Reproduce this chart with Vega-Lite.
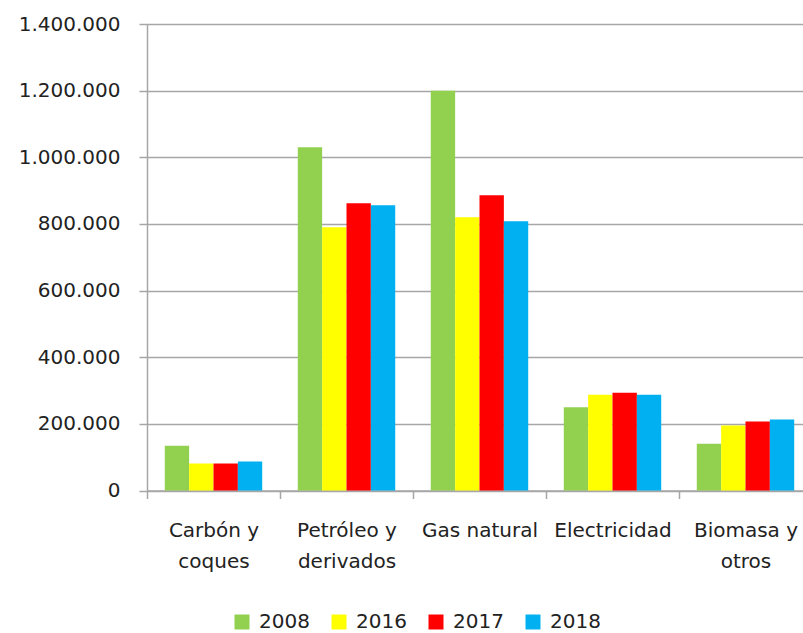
{
  "$schema": "https://vega.github.io/schema/vega-lite/v6.json",
  "width": 656,
  "height": 466.5,
  "autosize": {"type": "none"},
  "padding": {"left": 147, "top": 24, "right": 0, "bottom": 142.5},
  "config": {
    "locale": {"number": {"decimal": ",", "thousands": ".", "grouping": [3], "currency": ["", " €"]}},
    "view": {"stroke": null},
    "font": "DejaVu Sans"
  },
  "data": {
    "values": [
      {"fuente": "Carbón y coques", "anio": "2008", "valor": 134000},
      {"fuente": "Carbón y coques", "anio": "2016", "valor": 81000},
      {"fuente": "Carbón y coques", "anio": "2017", "valor": 81000},
      {"fuente": "Carbón y coques", "anio": "2018", "valor": 87000},
      {"fuente": "Petróleo y derivados", "anio": "2008", "valor": 1030000},
      {"fuente": "Petróleo y derivados", "anio": "2016", "valor": 790000},
      {"fuente": "Petróleo y derivados", "anio": "2017", "valor": 862000},
      {"fuente": "Petróleo y derivados", "anio": "2018", "valor": 856000},
      {"fuente": "Gas natural", "anio": "2008", "valor": 1200000},
      {"fuente": "Gas natural", "anio": "2016", "valor": 820000},
      {"fuente": "Gas natural", "anio": "2017", "valor": 886000},
      {"fuente": "Gas natural", "anio": "2018", "valor": 808000},
      {"fuente": "Electricidad", "anio": "2008", "valor": 250000},
      {"fuente": "Electricidad", "anio": "2016", "valor": 287000},
      {"fuente": "Electricidad", "anio": "2017", "valor": 293000},
      {"fuente": "Electricidad", "anio": "2018", "valor": 287000},
      {"fuente": "Biomasa y otros", "anio": "2008", "valor": 140000},
      {"fuente": "Biomasa y otros", "anio": "2016", "valor": 195000},
      {"fuente": "Biomasa y otros", "anio": "2017", "valor": 207000},
      {"fuente": "Biomasa y otros", "anio": "2018", "valor": 213000}
    ]
  },
  "mark": {"type": "bar"},
  "encoding": {
    "x": {
      "field": "fuente",
      "type": "nominal",
      "sort": ["Carbón y coques", "Petróleo y derivados", "Gas natural", "Electricidad", "Biomasa y otros"],
      "scale": {"range": [0, 665], "paddingInner": 0, "paddingOuter": 0},
      "axis": {
        "title": null,
        "tickBand": "extent",
        "labelAngle": 0,
        "domainColor": "#a6a6a6",
        "domainWidth": 1.5,
        "tickColor": "#a6a6a6",
        "tickWidth": 1.5,
        "tickSize": 8,
        "labelFontSize": 20,
        "labelColor": "#222222",
        "labelBaseline": "alphabetic",
        "labelPadding": 38,
        "labelLineHeight": 31,
        "labelLimit": 0,
        "labelExpr": "datum.value == 'Carbón y coques' ? ['Carbón y', 'coques'] : datum.value == 'Petróleo y derivados' ? ['Petróleo y', 'derivados'] : datum.value == 'Biomasa y otros' ? ['Biomasa y', 'otros'] : datum.label"
      }
    },
    "xOffset": {
      "field": "anio",
      "type": "nominal",
      "sort": ["2008", "2016", "2017", "2018"],
      "scale": {"paddingInner": 0, "paddingOuter": 0.73}
    },
    "y": {
      "field": "valor",
      "type": "quantitative",
      "scale": {"domain": [0, 1400000], "nice": false},
      "axis": {
        "title": null,
        "values": [0, 200000, 400000, 600000, 800000, 1000000, 1200000, 1400000],
        "format": ",d",
        "grid": true,
        "gridColor": "#a6a6a6",
        "gridWidth": 1.5,
        "domainColor": "#a6a6a6",
        "domainWidth": 1.5,
        "tickColor": "#a6a6a6",
        "tickWidth": 1.5,
        "tickSize": 8,
        "labelFontSize": 20,
        "labelColor": "#222222",
        "labelPadding": 19
      }
    },
    "color": {
      "field": "anio",
      "type": "nominal",
      "sort": ["2008", "2016", "2017", "2018"],
      "scale": {"domain": ["2008", "2016", "2017", "2018"], "range": ["#92D050", "#FFFF00", "#FF0000", "#00B0F0"]},
      "legend": {
        "title": null,
        "orient": "none",
        "legendX": 85,
        "legendY": 588,
        "direction": "horizontal",
        "columns": 4,
        "symbolType": "square",
        "symbolSize": 225,
        "symbolStrokeWidth": 0,
        "labelFontSize": 20,
        "labelColor": "#222222",
        "labelOffset": 7,
        "columnPadding": 19
      }
    }
  }
}
